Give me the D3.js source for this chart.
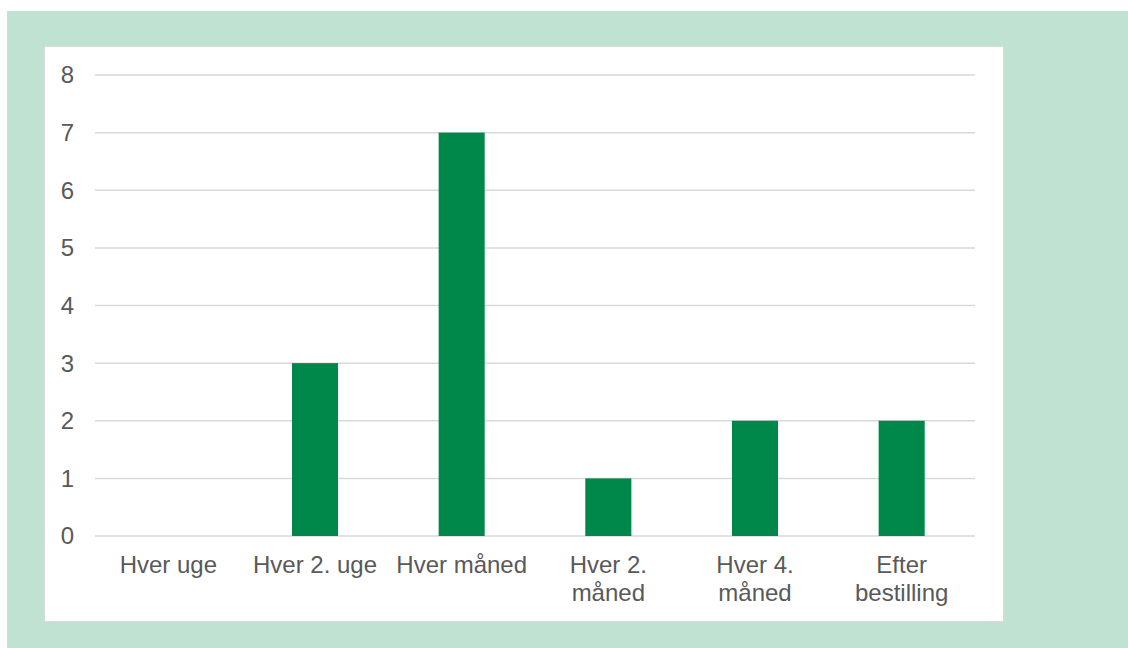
<!DOCTYPE html>
<html><head><meta charset="utf-8">
<script src="https://cdn.jsdelivr.net/npm/d3@7/dist/d3.min.js"></script>
<style>
html,body{margin:0;padding:0;background:#fff;}
svg{display:block;}
</style></head>
<body>
<svg id="chart" width="1128" height="648"></svg>
<script>
const categories = [["Hver uge"], ["Hver 2. uge"], ["Hver måned"], ["Hver 2.", "måned"], ["Hver 4.", "måned"], ["Efter", "bestilling"]];
const values = [0, 3, 7, 1, 2, 2];
const yTicks = [0, 1, 2, 3, 4, 5, 6, 7, 8];

(function () {
const svg = d3.select("#chart");
svg.append("rect").attr("x", 7).attr("y", 11).attr("width", 1121).attr("height", 637).attr("fill", "#c0e2d3");
svg.append("rect").attr("x", 44.5).attr("y", 46.5).attr("width", 959).attr("height", 575)
  .attr("fill", "#fff").attr("stroke", "#d9d9d9").attr("stroke-width", 1);

const pLeft = 95, pRight = 975, pTop = 75, pBottom = 536;
const x = d3.scaleBand().domain(d3.range(categories.length)).range([pLeft, pRight]).paddingInner(0.686).paddingOuter(0.343);
const y = d3.scaleLinear().domain([0, 8]).range([pBottom, pTop]);

const g = svg.append("g");
g.selectAll("line.grid").data(yTicks).join("line")
  .attr("x1", pLeft).attr("x2", pRight)
  .attr("y1", d => y(d)).attr("y2", d => y(d))
  .attr("stroke", "#d9d9d9").attr("stroke-width", 1.5);

g.selectAll("text.ytick").data(yTicks).join("text")
  .attr("x", 74).attr("y", d => y(d)).attr("dy", "0.35em")
  .attr("text-anchor", "end")
  .attr("font-family", "Liberation Sans, Arial, sans-serif").attr("font-size", 24)
  .attr("fill", "#595959").text(d => d);

g.selectAll("rect.bar").data(values).join("rect")
  .attr("x", (d, i) => x(i)).attr("width", x.bandwidth())
  .attr("y", d => y(d)).attr("height", d => y(0) - y(d))
  .attr("fill", "#00884a");

const xl = g.selectAll("text.xl").data(categories).join("text")
  .attr("text-anchor", "middle")
  .attr("font-family", "Liberation Sans, Arial, sans-serif").attr("font-size", 24)
  .attr("fill", "#595959");
xl.each(function(lines, i) {
  const cx = x(i) + x.bandwidth() / 2;
  d3.select(this).selectAll("tspan").data(lines).join("tspan")
    .attr("x", cx).attr("y", (d, j) => 573 + j * 28).text(d => d);
});
})();
</script>
</body></html>
